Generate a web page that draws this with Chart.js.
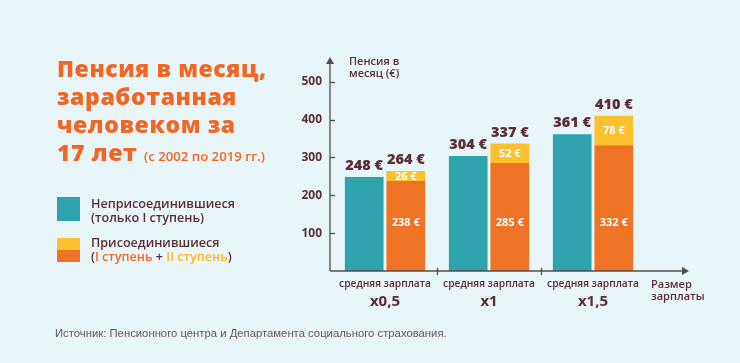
<!DOCTYPE html>
<html><head><meta charset="utf-8">
<script src="https://cdn.jsdelivr.net/npm/chart.js@4"></script>
<style>
html,body{margin:0;padding:0;}
body{width:740px;height:363px;background:#e8f5f9;position:relative;overflow:hidden;font-family:"Open Sans",sans-serif;}
#c{position:absolute;left:0;top:0;}
.abs{position:absolute;white-space:nowrap;}
#title{left:57px;top:54px;color:#f26522;font-weight:800;font-size:23px;line-height:28px;letter-spacing:0.6px;}
#title small{font-size:13.2px;font-weight:600;letter-spacing:0;}
.leg{font-size:12.6px;font-weight:600;color:#5a2e35;line-height:14px;}
.sq{position:absolute;}
.dark{color:#5a2e35;font-weight:600;}
</style></head>
<body>
<canvas id="c" width="740" height="363"></canvas>
<div id="title" class="abs">Пенсия в месяц,<br>заработанная<br>человеком за<br>17 лет <small>(с 2002 по 2019 гг.)</small></div>
<div class="sq" style="left:57px;top:197px;width:23px;height:24px;background:#2fa3ad"></div>
<div class="sq" style="left:57px;top:238px;width:23px;height:12px;background:#fdc02f"></div>
<div class="sq" style="left:57px;top:250px;width:23px;height:12px;background:#ef7325"></div>
<div class="abs leg" style="left:91px;top:197px;">Неприсоединившиеся<br>(только I ступень)</div>
<div class="abs leg" style="left:91px;top:236px;">Присоединившиеся<br>(<span style="color:#f26a22">I ступень</span> + <span style="color:#fbb92b">II ступень</span>)</div>
<div class="abs dark" style="left:349px;top:55px;font-size:11px;line-height:12px;">Пенсия в<br>месяц (€)</div>
<div class="abs dark" style="left:651px;top:278px;font-size:11px;line-height:12px;">Размер<br>зарплаты</div>
<div class="abs" style="left:55px;top:327px;font-family:'Liberation Sans',sans-serif;font-size:11.3px;color:#6a5458;">Источник: Пенсионного центра и Департамента социального страхования.</div>
<script>
const categoriesTop = ['средняя зарплата','средняя зарплата','средняя зарплата'];
const categoriesBottom = ['x0,5','x1','x1,5'];
const notJoined = [248, 304, 361];
const stage1 = [238, 285, 332];
const stage2 = [26, 52, 78];
const yTicks = [100, 200, 300, 400, 500];

const DARK = '#5a2e35';
const AXIS = '#5a4a4c';

const axisPlugin = {
  id: 'axisPlugin',
  afterDraw(chart) {
    const ctx = chart.ctx;
    const x = chart.scales.x, y = chart.scales.y;
    const ax = x.left - 3, by = y.bottom;
    ctx.save();
    ctx.strokeStyle = AXIS; ctx.fillStyle = AXIS; ctx.lineWidth = 1.3;
    ctx.beginPath(); ctx.moveTo(ax, by); ctx.lineTo(ax, 63); ctx.stroke();
    ctx.beginPath(); ctx.moveTo(ax - 4, 64); ctx.lineTo(ax + 4, 64); ctx.lineTo(ax, 57); ctx.closePath(); ctx.fill();
    ctx.beginPath(); ctx.moveTo(ax, by); ctx.lineTo(683, by); ctx.stroke();
    ctx.beginPath(); ctx.moveTo(682, by - 4); ctx.lineTo(682, by + 4); ctx.lineTo(689, by); ctx.closePath(); ctx.fill();
    yTicks.forEach(v => {
      const py = Math.round(y.getPixelForValue(v)) + 0.5;
      ctx.beginPath(); ctx.moveTo(ax, py); ctx.lineTo(ax + 5, py); ctx.stroke();
    });
    for (let i = 0; i < categoriesBottom.length - 1; i++) {
      const px = Math.round((x.getPixelForValue(i) + x.getPixelForValue(i + 1)) / 2) + 0.5;
      ctx.beginPath(); ctx.moveTo(px, by - 3); ctx.lineTo(px, by + 4); ctx.stroke();
    }
    ctx.restore();
  }
};

const labelPlugin = {
  id: 'labelPlugin',
  afterDatasetsDraw(chart) {
    const ctx = chart.ctx;
    const y = chart.scales.y;
    ctx.save();
    ctx.textAlign = 'center'; ctx.textBaseline = 'middle';
    const m0 = chart.getDatasetMeta(0), m1 = chart.getDatasetMeta(1), m2 = chart.getDatasetMeta(2);
    for (let i = 0; i < notJoined.length; i++) {
      ctx.fillStyle = DARK; ctx.font = '800 14.5px "Open Sans"';
      const b0 = m0.data[i];
      ctx.fillText(notJoined[i] + ' €', b0.x, b0.y - 11);
      const b2 = m2.data[i];
      ctx.fillText((stage1[i] + stage2[i]) + ' €', b2.x, b2.y - 11);
      ctx.fillStyle = '#ffffff'; ctx.font = 'bold 11px "Open Sans"';
      ctx.fillText(stage2[i] + ' €', b2.x, (b2.y + b2.base) / 2 + 0.5);
      const b1 = m1.data[i];
      ctx.fillText(stage1[i] + ' €', b1.x, y.getPixelForValue(126));
    }
    ctx.restore();
  }
};

new Chart(document.getElementById('c'), {
  type: 'bar',
  data: {
    labels: categoriesTop,
    datasets: [
      { data: notJoined, backgroundColor: '#2fa3ad', stack: 'a', borderWidth: 0 },
      { data: stage1, backgroundColor: '#ef7325', stack: 'b', borderWidth: 0 },
      { data: stage2, backgroundColor: '#fdc02f', stack: 'b', borderWidth: 0 }
    ]
  },
  options: {
    responsive: false, animation: false,
    devicePixelRatio: 1,
    layout: { padding: { left: 0, right: 95, top: 59, bottom: 46 } },
    plugins: { legend: { display: false }, tooltip: { enabled: false } },
    datasets: { bar: { categoryPercentage: 0.8, barPercentage: 0.93 } },
    scales: {
      x: {
        stacked: true,
        grid: { display: false, drawTicks: false }, border: { display: false },
        ticks: { color: DARK, font: { family: 'Open Sans', size: 10.2, weight: '600' }, padding: 7, maxRotation: 0, autoSkip: false },
        afterFit(s) { s.height = 22; }
      },
      x2: {
        type: 'category', position: 'bottom', labels: categoriesBottom,
        grid: { display: false, drawTicks: false }, border: { display: false },
        ticks: { color: DARK, font: { family: 'Open Sans', size: 15, weight: 'bold' }, padding: 0, maxRotation: 0, autoSkip: false },
        afterFit(s) { s.height = 24; }
      },
      y: {
        stacked: true, min: 0, max: 560,
        grid: { display: false, drawTicks: false }, border: { display: false },
        afterBuildTicks(s) { s.ticks = yTicks.map(v => ({ value: v })); },
        ticks: { color: DARK, font: { family: 'Open Sans', size: 12, weight: 'bold' }, padding: 11 },
        afterFit(s) { s.width = 333; }
      }
    }
  },
  plugins: [axisPlugin, labelPlugin]
});
</script>
</body></html>
